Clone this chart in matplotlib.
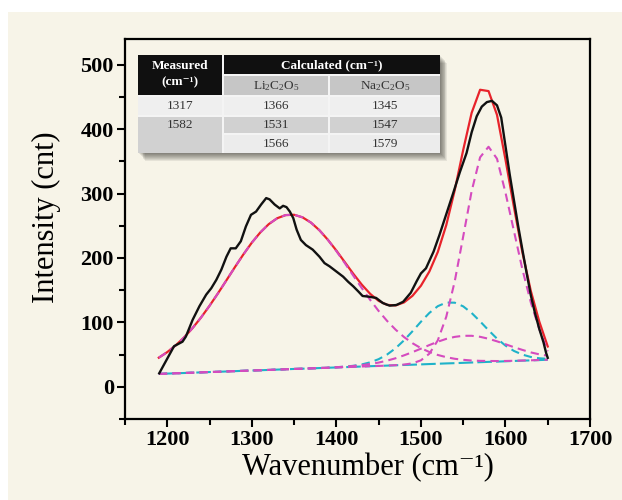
import matplotlib
matplotlib.use("Agg")
from matplotlib import pyplot as plt
from matplotlib.patches import Rectangle
from matplotlib.ticker import MultipleLocator

plt.rcParams['font.family'] = ['Liberation Serif', 'DejaVu Serif']
plt.rcParams['mathtext.fontset'] = 'custom'
plt.rcParams['mathtext.rm'] = 'Liberation Serif'
plt.rcParams['mathtext.it'] = 'Liberation Serif:italic'
plt.rcParams['mathtext.bf'] = 'Liberation Serif:bold'
plt.rcParams['mathtext.default'] = 'regular'

# measured spectrum (black)
meas_x = [1190.5, 1198, 1208, 1218, 1222, 1230, 1238, 1246, 1252, 1258, 1264, 1270,
          1275, 1281, 1287, 1293, 1299, 1305, 1311, 1317, 1321, 1327, 1333, 1337,
          1341, 1345, 1349, 1353, 1358, 1364, 1372, 1380, 1386, 1392, 1400, 1408,
          1414, 1420, 1426, 1431, 1438, 1447, 1455, 1463, 1471, 1479, 1488, 1495,
          1500, 1506, 1515, 1522, 1530, 1538, 1546, 1554, 1560, 1566, 1572, 1578,
          1584, 1590, 1595, 1600, 1605, 1610, 1615, 1620, 1625, 1630, 1635, 1640,
          1645, 1648, 1650]
meas_y = [21, 39, 63, 70, 78, 104, 125, 143, 153, 166, 182, 202,
          215, 215, 226, 249, 267, 272, 283, 293, 291, 283, 277, 281,
          279, 272, 262, 244, 228, 220, 213, 202, 192, 187, 179, 171,
          163, 156, 148, 141, 140, 138, 130, 126, 127, 132, 146, 164,
          176, 184, 210, 236, 268, 300, 333, 363, 395, 420, 435, 442,
          444, 437, 418, 374, 330, 290, 250, 213, 177, 142, 114, 90,
          69, 53, 45]

# fitted curves, read on a 10 cm-1 grid
wn = [1190, 1200, 1210, 1220, 1230, 1240, 1250, 1260, 1270, 1280, 1290, 1300,
      1310, 1320, 1330, 1340, 1350, 1360, 1370, 1380, 1390, 1400, 1410, 1420,
      1430, 1440, 1450, 1460, 1470, 1480, 1490, 1500, 1510, 1520, 1530, 1540,
      1550, 1560, 1570, 1580, 1590, 1600, 1610, 1620, 1630, 1640, 1650]

fit_sum = [45.2, 53.9, 64.4, 76.8, 91.3, 107.7, 125.8, 145.2, 165.4, 185.8, 205.5, 223.8,
           239.6, 252.5, 261.7, 266.6, 267.1, 263.1, 254.9, 243.0, 228.2, 211.5, 193.5, 175.5,
           158.7, 144.3, 133.4, 127.2, 126.3, 131.0, 141.2, 156.9, 179.0, 209.4, 251.1, 305.2,
           367.6, 425.3, 461.2, 459.1, 422.2, 353.0, 279.4, 208.9, 148.8, 101.3, 62.6]

baseline = [20.0, 20.5, 21.0, 21.4, 21.9, 22.4, 22.9, 23.3, 23.8, 24.3, 24.8, 25.3,
            25.7, 26.2, 26.7, 27.2, 27.7, 28.1, 28.6, 29.1, 29.6, 30.0, 30.5, 31.0,
            31.5, 32.0, 32.4, 32.9, 33.4, 33.9, 34.3, 34.8, 35.3, 35.8, 36.3, 36.7,
            37.2, 37.7, 38.2, 38.7, 39.1, 39.6, 40.1, 40.6, 41.0, 41.5, 42.0]

peak_1345 = [45.2, 53.9, 64.4, 76.8, 91.3, 107.7, 125.8, 145.2, 165.4, 185.8, 205.5, 223.8,
             239.6, 252.5, 261.7, 266.6, 267.1, 263.1, 254.9, 243.0, 228.1, 210.7, 192.0, 172.6,
             153.4, 134.9, 117.7, 102.3, 88.8, 77.3, 67.7, 60.0, 54.0, 49.4, 46.0, 43.5,
             41.9, 40.8, 40.3, 40.1, 40.0, 40.1, 40.4, 40.8, 41.1, 41.6, 42.0]

peak_1534 = [20.0, 20.5, 21.0, 21.4, 21.9, 22.4, 22.9, 23.3, 23.8, 24.3, 24.8, 25.3,
             25.7, 26.2, 26.7, 27.2, 27.7, 28.1, 28.6, 29.1, 29.7, 30.4, 31.3, 32.6,
             34.7, 38.0, 42.9, 50.1, 59.8, 72.1, 86.2, 101.0, 114.7, 125.2, 130.8, 130.6,
             124.9, 114.6, 101.6, 87.8, 74.8, 64.0, 55.7, 50.0, 46.3, 44.3, 43.4]

peak_1552 = [20.0, 20.5, 21.0, 21.4, 21.9, 22.4, 22.9, 23.3, 23.8, 24.3, 24.8, 25.3,
             25.7, 26.2, 26.7, 27.2, 27.7, 28.1, 28.6, 29.1, 29.6, 30.4, 31.2, 32.3,
             33.6, 35.4, 37.6, 40.6, 44.3, 48.8, 53.8, 59.2, 64.8, 70.0, 74.4, 77.5,
             79.2, 79.2, 77.6, 74.6, 70.6, 66.1, 61.5, 57.3, 53.4, 50.4, 48.2]

peak_1579 = [20.0, 20.5, 21.0, 21.4, 21.9, 22.4, 22.9, 23.3, 23.8, 24.3, 24.8, 25.3,
             25.7, 26.2, 26.7, 27.2, 27.7, 28.1, 28.6, 29.1, 29.6, 30.0, 30.5, 31.0,
             31.5, 32.0, 32.4, 32.9, 33.6, 34.5, 36.4, 41.1, 51.4, 72.2, 108.8, 163.7,
             233.2, 303.8, 356.3, 372.7, 354.1, 301.6, 242.1, 182.6, 131.0, 89.5, 55.0]

# inset table
measured = ['1317', '1582']
li_calc = ['1366', '1531', '1566']
na_calc = ['1345', '1547', '1579']

cream = '#f7f4e8'
magenta = '#d54bbf'
cyan = '#1fb2c9'

fig = plt.figure(figsize=(6.22, 5.0), dpi=100)
fig.patch.set_facecolor('white')
fig.add_artist(Rectangle((8 / 622, 0), 1, 1 - 12 / 500, transform=fig.transFigure,
                         facecolor=cream, edgecolor='none', zorder=-10))

ax = fig.add_axes([125 / 622, 1 - 419 / 500, 465 / 622, 380 / 500])
ax.set_facecolor(cream)

ax.plot(wn, fit_sum, color='#e8232b', lw=1.6, zorder=3)
ax.plot(wn, baseline, color=cyan, lw=1.5, dashes=(7, 2), zorder=4)
ax.plot(wn, peak_1534, color=cyan, lw=1.5, dashes=(4, 2.5), zorder=4)
ax.plot(wn, peak_1345, color=magenta, lw=1.5, dashes=(4, 2.5), zorder=4)
ax.plot(wn, peak_1552, color=magenta, lw=1.5, dashes=(4, 2.5), zorder=4)
ax.plot(wn, peak_1579, color=magenta, lw=1.5, dashes=(4, 2.5), zorder=4)
ax.plot(meas_x, meas_y, color='#111111', lw=1.7, zorder=5)

ax.set_xlim(1150, 1700)
ax.set_ylim(-50, 540)
ax.xaxis.set_major_locator(MultipleLocator(100))
ax.xaxis.set_minor_locator(MultipleLocator(50))
ax.yaxis.set_major_locator(MultipleLocator(100))
ax.yaxis.set_minor_locator(MultipleLocator(50))
ax.set_yticks([0, 100, 200, 300, 400, 500])
ax.tick_params(which='major', direction='out', length=6, width=1.5, pad=2)
ax.tick_params(which='minor', direction='out', length=4, width=1.5)
for lab in ax.get_xticklabels() + ax.get_yticklabels():
    lab.set_fontweight('bold')
    lab.set_fontsize(16)
for sp in ax.spines.values():
    sp.set_linewidth(1.6)

ax.set_xlabel('Wavenumber (cm\u207b\u00b9)', fontsize=22, labelpad=2, x=0.523)
ax.set_ylabel('Intensity (cnt)', fontsize=22, labelpad=14, y=0.53)

# table with a soft shadow
tab = fig.add_axes([138 / 622, 1 - 153 / 500, 302 / 622, 98 / 500])
tab.set_xlim(0, 302)
tab.set_ylim(98, 0)
tab.axis('off')
for i in range(1, 9):
    tab.add_patch(Rectangle((i * 0.9, i * 1.0), 302, 98, facecolor='#000000',
                            alpha=0.07, edgecolor='none', clip_on=False))
tab.add_patch(Rectangle((0, 0), 302, 98, facecolor='#f4f4f4', edgecolor='none', clip_on=False))

def cell(x0, y0, w, h, fc):
    tab.add_patch(Rectangle((x0, y0), w, h, facecolor=fc, edgecolor='none', clip_on=False))

cols = [(0, 84), (86, 104), (192, 110)]
cell(0, 0, 84, 40, '#101010')
cell(86, 0, 216, 19, '#101010')
cell(86, 21, 104, 19, '#c6c6c6')
cell(192, 21, 110, 19, '#c6c6c6')
cell(0, 42, 84, 18, '#efefef')
cell(0, 62, 84, 36, '#d1d1d1')
for (cx, cw) in cols[1:]:
    cell(cx, 42, cw, 18, '#efefef')
    cell(cx, 62, cw, 16, '#d1d1d1')
    cell(cx, 80, cw, 18, '#ececec')

hfs = 9.5
dfs = 9.5
tab.text(42, 11, 'Measured', color='white', fontsize=hfs, fontweight='bold',
         ha='center', va='center')
tab.text(42, 27, '(cm\u207b\u00b9)', color='white', fontsize=hfs, fontweight='bold',
         ha='center', va='center')
tab.text(194, 10, 'Calculated (cm\u207b\u00b9)', color='white', fontsize=hfs,
         fontweight='bold', ha='center', va='center')
tab.text(138, 31, 'Li$_2$C$_2$O$_5$', color='#333333', fontsize=dfs, ha='center', va='center')
tab.text(247, 31, 'Na$_2$C$_2$O$_5$', color='#333333', fontsize=dfs, ha='center', va='center')

row_y = [51, 70, 89]
for i, v in enumerate(measured):
    tab.text(42, row_y[i], v, color='#333333', fontsize=dfs, ha='center', va='center')
for i in range(3):
    tab.text(138, row_y[i], li_calc[i], color='#333333', fontsize=dfs, ha='center', va='center')
    tab.text(247, row_y[i], na_calc[i], color='#333333', fontsize=dfs, ha='center', va='center')

fig.savefig('out.png', dpi=100)
